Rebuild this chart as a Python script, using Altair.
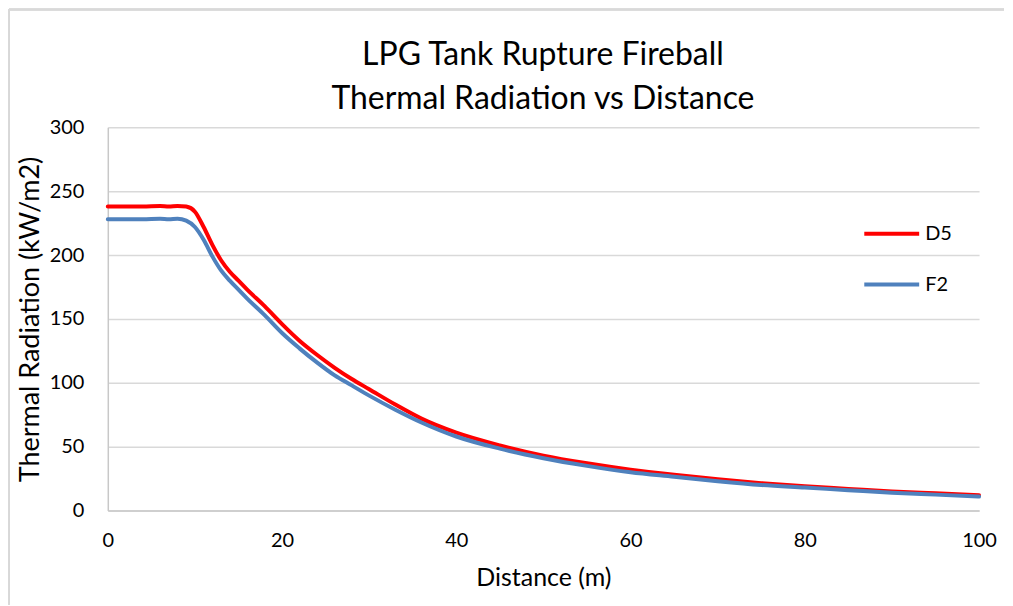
import altair as alt
import pandas as pd

distance = [0, 2, 4, 6, 7, 8, 9, 10, 11, 12, 13, 14, 15, 16, 18, 20, 22, 24, 26, 28, 30,
            33, 36, 40, 45, 50, 55, 60, 65, 70, 75, 80, 85, 90, 95, 100]
d5 = [238, 238, 238, 238.5, 238, 238.5, 238, 234, 222, 208, 196, 187, 180, 173, 160, 146,
      133, 122, 112, 103, 95, 83, 72, 61, 51, 43, 37, 32, 28, 24.5, 21.5, 19, 17, 15, 13.5, 12]
f2 = [228, 228, 228, 228.5, 228, 228.5, 227, 222, 212, 199, 188, 180, 173, 166, 153, 139,
      127, 116, 106, 98, 90, 79, 69, 58, 48.5, 41, 35, 30, 26.5, 23, 20, 18, 16, 14, 12.5, 11]
series_names = ["D5", "F2"]
series_colors = ["#FF0000", "#4F81BD"]
title_lines = ["LPG Tank Rupture Fireball", "Thermal Radiation vs Distance"]

rows = []
for name, vals in zip(series_names, [d5, f2]):
    for x, y in zip(distance, vals):
        rows.append({"Distance": x, "Radiation": y, "Series": name})
df = pd.DataFrame(rows)

FONT = "Lato"

lines = alt.Chart(df).mark_line(strokeWidth=4, interpolate="monotone", strokeCap="round").encode(
    x=alt.X("Distance:Q", scale=alt.Scale(domain=[0, 100], nice=False),
            axis=alt.Axis(values=[0, 20, 40, 60, 80, 100], title="Distance (m)",
                          grid=False, ticks=False, labelPadding=20, titlePadding=15,
                          labelFlush=False, titleFontSize=25,
                          domainColor="#C8C8C8", domainWidth=1.5)),
    y=alt.Y("Radiation:Q", scale=alt.Scale(domain=[0, 300], nice=False),
            axis=alt.Axis(values=[0, 50, 100, 150, 200, 250, 300],
                          title="Thermal Radiation (kW/m2)",
                          grid=True, gridColor="#D9D9D9", gridWidth=1.5, ticks=False,
                          labelPadding=24, titlePadding=5, labelFlush=False,
                          titleFontSize=27,
                          domainColor="#C8C8C8", domainWidth=1.5)),
    color=alt.Color("Series:N",
                    scale=alt.Scale(domain=series_names, range=series_colors),
                    legend=alt.Legend(title=None, orient="none", legendX=756, legendY=77,
                                      symbolType="stroke", symbolSize=3025,
                                      symbolStrokeWidth=4, labelOffset=4, rowPadding=11,
                                      padding=0, labelFontSize=20, labelFont=FONT,
                                      labelColor="#000000")),
)

border_left = alt.Chart(df).mark_rule(color="#D9D9D9", strokeWidth=1.5).encode(
    x=alt.value(-99), y=alt.value(-118), y2=alt.value(478))
border_top = alt.Chart(df).mark_rule(color="#D9D9D9", strokeWidth=1.5).encode(
    x=alt.value(-99), x2=alt.value(898), y=alt.value(-118))

title_df = pd.DataFrame({"line": title_lines, "idx": [0, 1]})
title1 = alt.Chart(title_df).transform_filter("datum.idx == 0").mark_text(
    font=FONT, fontSize=32, color="#000000", align="center", baseline="alphabetic"
).encode(x=alt.value(436), y=alt.value(-62), text="line:N")
title2 = alt.Chart(title_df).transform_filter("datum.idx == 1").mark_text(
    font=FONT, fontSize=32, color="#000000", align="center", baseline="alphabetic"
).encode(x=alt.value(436), y=alt.value(-18), text="line:N")

chart = alt.layer(border_left, border_top, title1, title2, lines).properties(
    width=873, height=384,
    padding=0,
).configure_axis(
    labelFont=FONT, labelFontSize=20, labelColor="#000000",
    titleFont=FONT, titleFontWeight="normal", titleColor="#000000",
).configure_view(stroke=None)

chart.save("out.html", embed_options={"renderer": "svg", "actions": False})
